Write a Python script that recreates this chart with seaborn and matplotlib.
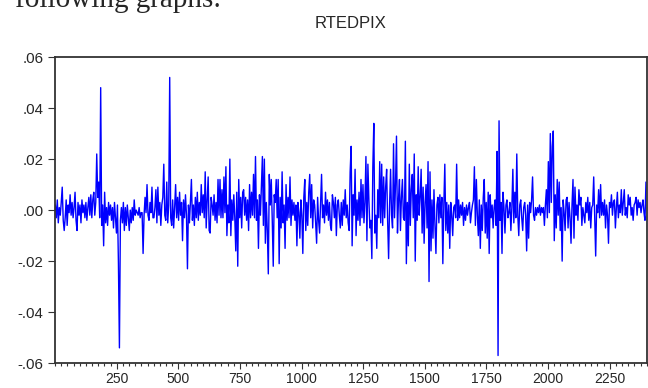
import numpy as np
import matplotlib
matplotlib.use('Agg')
import matplotlib.pyplot as plt
from matplotlib.ticker import MultipleLocator
import seaborn as sns

# RTEDPIX read off the graph, one value per 4 observations, in units of 0.001
# obs 1-600
seg_a = [2, -3, 4, -5, 1, -2, 3, 9, -4, -8,
         -3, 4, -6, 2, -1, 6, -2, 3, -3, 1,
         7, -4, -8, 3, -2, 2, -5, 4, -1, 2,
         -3, 3, -4, 1, 5, -2, 6, -3, 4, 7,
         -2, 3, 22, 5, 11, -3, 48, -6, 2, -14,
         7, -5, 1, -6, 3, -2, 2, -4, 1, -7,
         3, -3, -9, 2, -21, -54, -4, 1, -5, 3,
         -8, 1, -6, 2, -3, -8, 0, -5, 1, -4,
         4, -2, 0, -1, -2, 1, -3, -1, -1, -17,
         -2, 5, -1, 10, -2, -4, 3, -1, 9, -3,
         -3, 1, 8, -5, 9, -2, 3, -6, 2, 5,
         18, -2, -4, 11, -5, 2, 52, -3, -6, 4,
         -7, 1, 10, -3, 5, -4, 7, -2, 3, -12,
         4, -3, 6, -2, -23, 2, -5, 3, 12, -4,
         2, -6, 5, -3, 7, -4, 3, -2, 10, -1]
# obs 601-1200
seg_b = [6, -3, 15, -7, 4, 13, -8, -9, 5, 2,
         -2, 6, -4, 3, -5, 12, -2, 12, -3, 8,
         -3, 13, -1, 17, -10, 2, -5, 20, -10, 4,
         -4, 6, -3, -16, 7, -22, 12, -3, 5, -7,
         7, 8, -2, 5, -4, 4, -8, 10, -3, 7,
         -2, 14, -3, 21, -4, 4, -15, 6, -2, 10,
         21, -6, 20, -13, 3, -8, -25, 14, 2, 12,
         -4, -22, 6, 3, 12, -3, 12, -21, 5, -7,
         15, -5, 2, -15, 10, -4, 5, -3, 13, -6,
         4, -2, 3, -4, 2, -14, 3, -1, -11, 4,
         -2, -17, 5, 12, -8, 3, -6, 7, 14, -3,
         10, -7, 4, 2, -5, -13, 5, -4, -9, 3,
         14, -3, 2, -5, 7, -2, 4, -4, 3, -6,
         -8, 6, 3, -3, 5, -10, 2, 4, -2, -7,
         3, -6, 4, -2, 8, -3, 2, -5, -8, 15]
# obs 1201-1800
seg_c = [25, -14, 6, -2, 16, -10, 4, -4, 7, -6,
         12, -3, 10, -5, 3, 21, -12, 18, 4, -7,
         -4, -19, 17, 34, -9, -2, -15, 8, -3, 19,
         -5, 18, -6, 13, -3, 9, 16, -4, -19, 2,
         16, -2, -7, 26, -3, 10, 29, -9, 4, 12,
         -8, 5, 12, -3, -4, 27, -21, 3, -14, 18,
         -6, 8, 14, -3, 22, -20, 6, -4, 17, -2,
         5, 16, -9, 9, -13, 3, 10, -7, 19, -28,
         15, -16, 4, -11, 8, -6, -17, 2, 5, -5,
         6, -3, 5, -21, 2, 18, -8, 3, -9, 2,
         -15, 3, -2, -10, 1, 2, -3, 18, -4, 4,
         -3, 2, -2, 3, -6, 1, -4, 2, -2, 1,
         3, -5, -1, 2, 4, 17, -6, 12, -2, -10,
         4, -15, 2, -8, 5, 12, -9, 3, -11, 7,
         -17, 6, -3, 2, -7, 1, 4, -6, 23, -57]
# obs 1801-2400
seg_d = [35, -4, 3, -17, 7, 1, -9, 2, 4, -3,
         -1, 3, -8, 1, 16, -5, 7, -3, 22, -2,
         -10, 2, 4, -3, -8, 1, 3, -2, -16, 2,
         -11, 3, -1, 4, 13, -2, -4, 1, -2, 1,
         -1, 2, -2, 1, -1, 1, -6, 2, 8, -3,
         19, -1, 30, 3, 25, 31, -12, 6, -7, 12,
         -2, 11, -8, 1, -20, 4, -1, -8, 4, 5,
         -7, 3, -3, -13, 2, 12, -11, 9, -2, 2,
         -4, 8, 2, 5, -6, 1, -2, -5, 3, -1,
         5, -4, 3, -7, 1, 2, 13, -2, -18, 2,
         -1, 8, -3, 10, -2, 3, -2, 4, -7, 2,
         -2, -13, 3, 1, 6, -2, 3, 4, -7, 1,
         7, -3, 2, -1, 8, -2, 3, 8, -2, 1,
         -3, 6, 2, 5, -2, 1, -4, 2, 3, 5,
         -2, 4, 1, 3, -1, 2, 4, -1, -4, 11]

y_ticks = [-0.06, -0.04, -0.02, 0.0, 0.02, 0.04, 0.06]
y_labels = ['-.06', '-.04', '-.02', '.00', '.02', '.04', '.06']
x_ticks = [250, 500, 750, 1000, 1250, 1500, 1750, 2000, 2250]

rtedpix = np.array(seg_a + seg_b + seg_c + seg_d) / 1000
obs = np.arange(1, 2400, 4)

sns.set_style('ticks')
plt.rcParams['font.family'] = ['Liberation Sans', 'DejaVu Sans']

fig, ax = plt.subplots(figsize=(6.48, 3.88), dpi=100)
fig.subplots_adjust(left=0.085, right=0.998, bottom=0.064, top=0.853)

sns.lineplot(x=obs, y=rtedpix, ax=ax, color='blue', linewidth=1.0, estimator=None)

ax.set_xlim(0, 2400)
ax.set_ylim(-0.06, 0.06)
ax.set_yticks(y_ticks)
ax.set_yticklabels(y_labels)
ax.set_xticks(x_ticks)
ax.set_xticklabels([str(t) for t in x_ticks])
ax.xaxis.set_minor_locator(MultipleLocator(25))

ax.tick_params(axis='x', which='major', length=4.5, width=0.8, pad=2, labelsize=10, color='#333333')
ax.tick_params(axis='x', which='minor', length=2.3, width=0.8, color='#333333')
ax.tick_params(axis='y', length=5, width=0.8, pad=3.5, labelsize=10.8, color='#333333')
for s in ax.spines.values():
    s.set_visible(True)
    s.set_color('#333333')
    s.set_linewidth(1.3)
ax.set_xlabel('')
ax.set_ylabel('')
ax.set_title('RTEDPIX', fontsize=12, pad=21)

# cut-off line of the surrounding document text
fig.text(0.023, 0.982, 'following graphs:', family='Liberation Serif', fontsize=21, va='baseline')

fig.savefig('out.png', dpi=100)
